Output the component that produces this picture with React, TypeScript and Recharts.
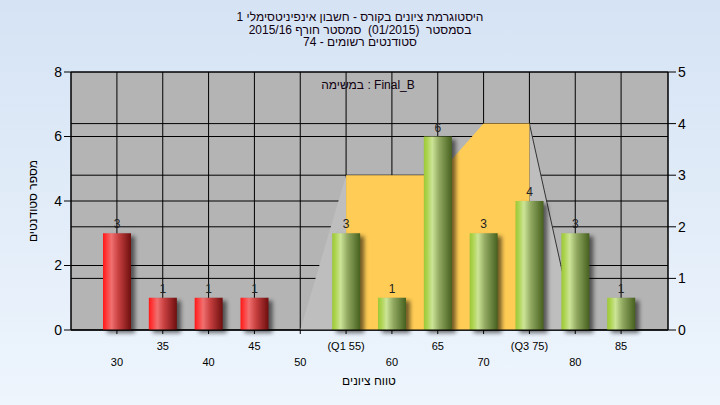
import { Area, Bar, CartesianGrid, ComposedChart, LabelList, XAxis, YAxis } from 'recharts';

const scores = [30, 35, 40, 45, 50, 55, 60, 65, 70, 75, 80, 85];
const scoreLabels = ['30', '35', '40', '45', '50', '(Q1 55)', '60', '65', '70', '(Q3 75)', '80', '85'];
const studentCounts = [3, 1, 1, 1, 0, 3, 1, 6, 3, 4, 3, 1];
// yellow band between Q1 and Q3 (right axis)
const quartileBand = [null, null, null, null, null, 3, 3, 3, 4, 4, null, null];
const lowerTail = [null, null, null, null, 0, 3, null, null, null, null, null, null];
const upperTail = [null, null, null, null, null, null, null, null, null, 4, 0, null];

const passScore = 55;

const titleLines = [
  'היסטוגרמת ציונים בקורס - חשבון אינפיניטסימלי 1',
  'בסמסטר  (01/2015)  סמסטר חורף 2015/16',
  'סטודנטים רשומים - 74',
];

const data = scores.map((s, i) => ({
  score: s,
  label: scoreLabels[i],
  count: studentCounts[i],
  band: quartileBand[i],
  lower: lowerTail[i],
  upper: upperTail[i],
}));

const font = '"Liberation Sans", Arial, sans-serif';

function CylinderBar(props: any) {
  const { x, y, width, height, payload } = props;
  if (!height || height <= 0) return null;
  const fill = payload.score < passScore ? 'url(#barRed)' : 'url(#barGreen)';
  return (
    <g>
      <rect x={x + 4} y={y + 3} width={width} height={height} fill="#000" opacity={0.55} filter="url(#barShadow)" />
      <rect x={x} y={y} width={width} height={height} fill={fill} />
    </g>
  );
}

function ScoreTick(props: any) {
  const { x, payload, index } = props;
  const row = index % 2 === 0 ? 366 : 350;
  return (
    <text x={x} y={row} textAnchor="middle" fontSize={11} fill="#000" fontFamily={font}>
      {payload.value}
    </text>
  );
}

export default function App() {
  return (
    <div
      style={{
        position: 'absolute',
        left: 0,
        top: 0,
        width: 720,
        height: 405,
        background: 'linear-gradient(#D5E3F4, #EEF5FD)',
        fontFamily: font,
      }}
    >
      <svg width={0} height={0} style={{ position: 'absolute' }}>
        <defs>
          <linearGradient id="barRed" x1="0" y1="0" x2="1" y2="0">
            <stop offset="0" stopColor="#FF1818" />
            <stop offset="0.1" stopColor="#FF3434" />
            <stop offset="0.3" stopColor="#F07070" />
            <stop offset="0.55" stopColor="#C84040" />
            <stop offset="1" stopColor="#6E0E0E" />
          </linearGradient>
          <linearGradient id="barGreen" x1="0" y1="0" x2="1" y2="0">
            <stop offset="0" stopColor="#9CC83A" />
            <stop offset="0.1" stopColor="#AAD24A" />
            <stop offset="0.3" stopColor="#CCE496" />
            <stop offset="0.55" stopColor="#90A860" />
            <stop offset="1" stopColor="#46601E" />
          </linearGradient>
          <filter id="barShadow" x="-30%" y="-10%" width="160%" height="130%">
            <feGaussianBlur stdDeviation="2" />
          </filter>
        </defs>
      </svg>

      {titleLines.map((t, i) => (
        <div
          key={i}
          style={{
            position: 'absolute',
            left: 0,
            width: 720,
            top: 10 + i * 12.5,
            textAlign: 'center',
            fontSize: 12,
            lineHeight: '14px',
            direction: 'rtl',
            whiteSpace: 'pre',
            color: '#100010',
          }}
        >
          {t}
        </div>
      ))}

      <ComposedChart
        width={720}
        height={405}
        data={data}
        margin={{ top: 72, right: 12, bottom: 35, left: 31 }}
        style={{ position: 'absolute', left: 0, top: 0 }}
      >
        <CartesianGrid yAxisId="left" fill="#B4B4B4" fillOpacity={1} stroke="#000" strokeOpacity={1} />
        <CartesianGrid yAxisId="right" vertical={false} stroke="#000" strokeOpacity={1} />
        <XAxis
          dataKey="label"
          interval={0}
          padding={{ left: 23, right: 24 }}
          height={40}
          stroke="#000"
          tickSize={4}
          tick={<ScoreTick />}
        />
        <YAxis
          yAxisId="left"
          domain={[0, 8]}
          ticks={[0, 2, 4, 6, 8]}
          width={40}
          stroke="#000"
          tickSize={7}
          tickMargin={2}
          tick={{ fontSize: 14, fill: '#000', fontFamily: font }}
        />
        <YAxis
          yAxisId="right"
          orientation="right"
          domain={[0, 5]}
          ticks={[0, 1, 2, 3, 4, 5]}
          width={40}
          stroke="#000"
          tickSize={8}
          tickMargin={2}
          tick={{ fontSize: 14, fill: '#000', fontFamily: font }}
        />
        <Area yAxisId="right" type="linear" dataKey="lower" fill="#BEBEBE" fillOpacity={1} stroke="none" dot={false} activeDot={false} isAnimationActive={false} />
        <Area yAxisId="right" type="linear" dataKey="upper" fill="#BEBEBE" fillOpacity={1} stroke="#333" strokeWidth={1} dot={false} activeDot={false} isAnimationActive={false} />
        <Area yAxisId="right" type="linear" dataKey="band" fill="#FFCC55" fillOpacity={1} stroke="none" dot={false} activeDot={false} isAnimationActive={false} />
        <Bar yAxisId="left" dataKey="count" barSize={28} shape={<CylinderBar />} isAnimationActive={false}>
          <LabelList
            dataKey="count"
            position="top"
            offset={5}
            fill="#222"
            fontSize={12}
            fontFamily={font}
            formatter={(v: any) => (v ? v : '')}
          />
        </Bar>
      </ComposedChart>

      <div
        style={{
          position: 'absolute',
          left: 268,
          width: 200,
          top: 78,
          textAlign: 'center',
          fontSize: 12,
          lineHeight: '14px',
          color: '#100010',
        }}
      >
        במשימה : Final_B
      </div>

      <div
        style={{
          position: 'absolute',
          left: 269,
          width: 200,
          top: 374,
          textAlign: 'center',
          fontSize: 12,
          lineHeight: '14px',
          direction: 'rtl',
          color: '#000',
        }}
      >
        טווח ציונים
      </div>

      <div
        style={{
          position: 'absolute',
          left: 33 - 60,
          width: 120,
          top: 201 - 7,
          textAlign: 'center',
          fontSize: 12,
          lineHeight: '14px',
          direction: 'rtl',
          color: '#000',
          transform: 'rotate(-90deg)',
        }}
      >
        מספר סטודנטים
      </div>
    </div>
  );
}
